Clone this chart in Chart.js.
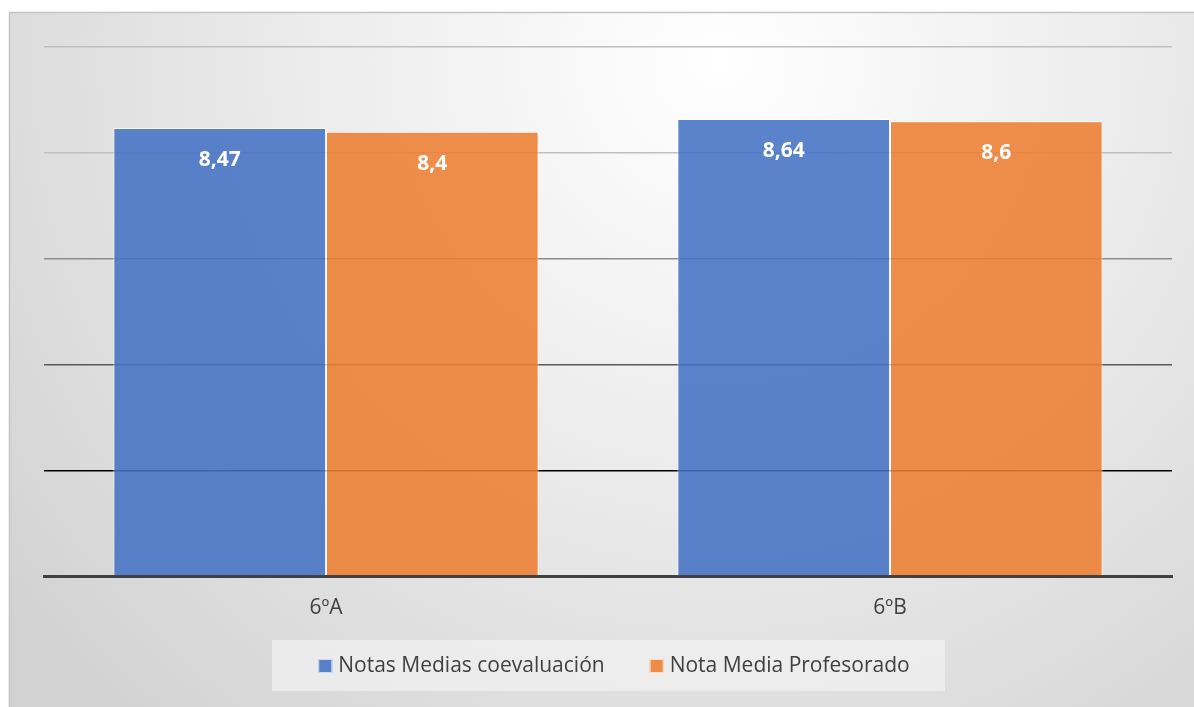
<!DOCTYPE html>
<html>
<head>
<meta charset="utf-8">
<script src="https://cdn.jsdelivr.net/npm/chart.js@4.4.0/dist/chart.umd.min.js"></script>
<style>
html,body{margin:0;padding:0;background:#fff;}
#wrap{width:1194px;height:707px;position:relative;}
</style>
</head>
<body>
<div id="wrap"><canvas id="c" width="1194" height="707"></canvas></div>
<script>
const categories = ['6ºA', '6ºB'];
const coevaluacion = [8.47, 8.64];
const profesorado = [8.4, 8.6];
const seriesNames = ['Notas Medias coevaluación', 'Nota Media Profesorado'];
const yTicks = [0, 2, 4, 6, 8, 10];

const FONT = '"Open Sans", "Liberation Sans", sans-serif';

const bgPlugin = {
  id: 'bg',
  beforeDraw(chart) {
    const ctx = chart.ctx;
    const w = chart.width, h = chart.height;
    ctx.save();
    ctx.fillStyle = '#ffffff';
    ctx.fillRect(0, 0, w, h);
    const g = ctx.createRadialGradient(720, 60, 0, 720, 60, 900);
    g.addColorStop(0, '#ffffff');
    g.addColorStop(0.45, '#ececec');
    g.addColorStop(1, '#d2d2d2');
    ctx.fillStyle = g;
    ctx.fillRect(10, 13, w - 10, h - 13);
    ctx.strokeStyle = '#c4c4c4';
    ctx.lineWidth = 1.5;
    ctx.beginPath();
    ctx.moveTo(9.5, h);
    ctx.lineTo(9.5, 12.5);
    ctx.lineTo(w, 12.5);
    ctx.stroke();
    ctx.restore();
  }
};

// legend drawn from the datasets (labels + colours)
const legendPlugin = {
  id: 'customLegend',
  afterDraw(chart) {
    const ctx = chart.ctx;
    ctx.save();
    ctx.fillStyle = 'rgba(240,240,240,0.75)';
    ctx.fillRect(272, 640, 673, 51);
    ctx.font = '21px ' + FONT;
    ctx.textBaseline = 'middle';
    const box = 14, gapBox = 6, gapItem = 45, cy = 666;
    const items = chart.data.datasets.map(ds => ({ text: ds.label, color: ds.backgroundColor }));
    const widths = items.map(it => box + gapBox + ctx.measureText(it.text).width);
    const total = widths.reduce((a, b) => a + b, 0) + gapItem * (items.length - 1);
    let x = 614 - total / 2;
    items.forEach((it, i) => {
      ctx.fillStyle = it.color;
      ctx.fillRect(x, cy - box / 2, box, box);
      ctx.strokeStyle = 'rgba(255,255,255,0.7)';
      ctx.lineWidth = 1;
      ctx.strokeRect(x + 0.5, cy - box / 2 + 0.5, box - 1, box - 1);
      ctx.fillStyle = '#404040';
      ctx.fillText(it.text, x + box + gapBox, cy);
      x += widths[i] + gapItem;
    });
    ctx.restore();
  }
};

const labelPlugin = {
  id: 'vals',
  afterDatasetsDraw(chart) {
    const ctx = chart.ctx;
    ctx.save();
    ctx.fillStyle = '#ffffff';
    ctx.font = 'bold 21px ' + FONT;
    ctx.textAlign = 'center';
    ctx.textBaseline = 'middle';
    chart.data.datasets.forEach((ds, di) => {
      chart.getDatasetMeta(di).data.forEach((bar, i) => {
        const v = ds.data[i];
        ctx.fillText(String(v).replace('.', ','), bar.x, bar.y + 32);
      });
    });
    ctx.restore();
  }
};

const gridColors = ['#404040', '#000000', '#595959', '#8c8c8c', '#bfbfbf', '#bfbfbf'];

new Chart(document.getElementById('c'), {
  type: 'bar',
  data: {
    labels: categories,
    datasets: [
      { label: seriesNames[0], data: coevaluacion, backgroundColor: 'rgba(68,114,196,0.88)', borderColor: 'rgba(255,255,255,0.7)', borderWidth: 1, categoryPercentage: 0.754, barPercentage: 1.0 },
      { label: seriesNames[1], data: profesorado, backgroundColor: 'rgba(237,125,49,0.88)', borderColor: 'rgba(255,255,255,0.7)', borderWidth: 1, categoryPercentage: 0.754, barPercentage: 1.0 }
    ]
  },
  options: {
    responsive: false,
    animation: false,
    devicePixelRatio: 1,
    layout: { padding: { left: 44, right: 22, top: 47, bottom: 75 } },
    scales: {
      x: {
        grid: { display: false },
        border: { display: true, color: '#404040', width: 3 },
        ticks: { color: '#404040', font: { size: 21, family: FONT }, padding: 11 }
      },
      y: {
        min: 0, max: 10,
        afterBuildTicks(axis) { axis.ticks = yTicks.map(v => ({ value: v })); },
        ticks: { display: false },
        border: { display: false },
        grid: {
          color: ctx => gridColors[ctx.index] || '#bfbfbf',
          lineWidth: ctx => ctx.index === 0 ? 3 : 1.5,
          drawTicks: false
        }
      }
    },
    plugins: {
      tooltip: { enabled: false },
      legend: { display: false }
    }
  },
  plugins: [bgPlugin, labelPlugin, legendPlugin]
});
</script>
</body>
</html>
